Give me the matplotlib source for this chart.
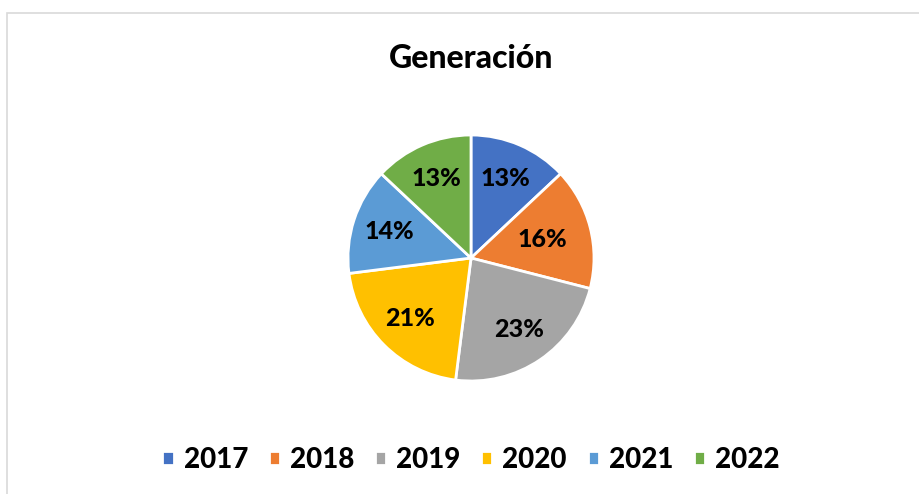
import matplotlib
matplotlib.use("Agg")
import matplotlib.pyplot as plt
from matplotlib.patches import Rectangle

plt.rcParams['font.family'] = ['Lato', 'DejaVu Sans']

title = "Generación"
years = ["2017", "2018", "2019", "2020", "2021", "2022"]
shares = [13, 16, 23, 21, 14, 13]
colors = ["#4472C4", "#ED7D31", "#A5A5A5", "#FFC000", "#5B9BD5", "#70AD47"]

W, H = 920, 494
fig = plt.figure(figsize=(W / 100, H / 100), dpi=100)

# chart border (partially outside the image)
fig.patches.append(Rectangle((7 / W, -0.1), 1.2, 1 - 13 / H + 0.1, transform=fig.transFigure,
                             fill=False, edgecolor="#D9D9D9", linewidth=1.2))

cx, cy, r = 471, 258, 123
ax = fig.add_axes([(cx - r) / W, (H - cy - r) / H, 2 * r / W, 2 * r / H])
wedges, texts, autotexts = ax.pie(
    shares, colors=colors, startangle=90, counterclock=False,
    autopct=lambda p: f"{p:.0f}%", pctdistance=0.7,
    wedgeprops=dict(edgecolor="white", linewidth=2),
    textprops=dict(fontsize=18, fontweight="black", color="black"))
# nudge 2018 label slightly inward, as in the reference placement
x, y = autotexts[1].get_position()
autotexts[1].set_position((x * 0.85, y * 0.85))
ax.set_xlim(-1, 1)
ax.set_ylim(-1, 1)
ax.set_aspect("equal")
ax.axis("off")

fig.text(cx / W, 1 - 58 / H, title, ha="center", va="center", fontsize=23, fontweight="black")

leg = fig.legend(wedges, years, loc="center", bbox_to_anchor=(cx / W, 1 - 460 / H), ncol=6,
                 frameon=False, prop=dict(size=20, weight="black"),
                 handlelength=0.4, handleheight=0.4, handletextpad=0.36, columnspacing=0.75)

fig.savefig("out.png", dpi=100, facecolor="white")
